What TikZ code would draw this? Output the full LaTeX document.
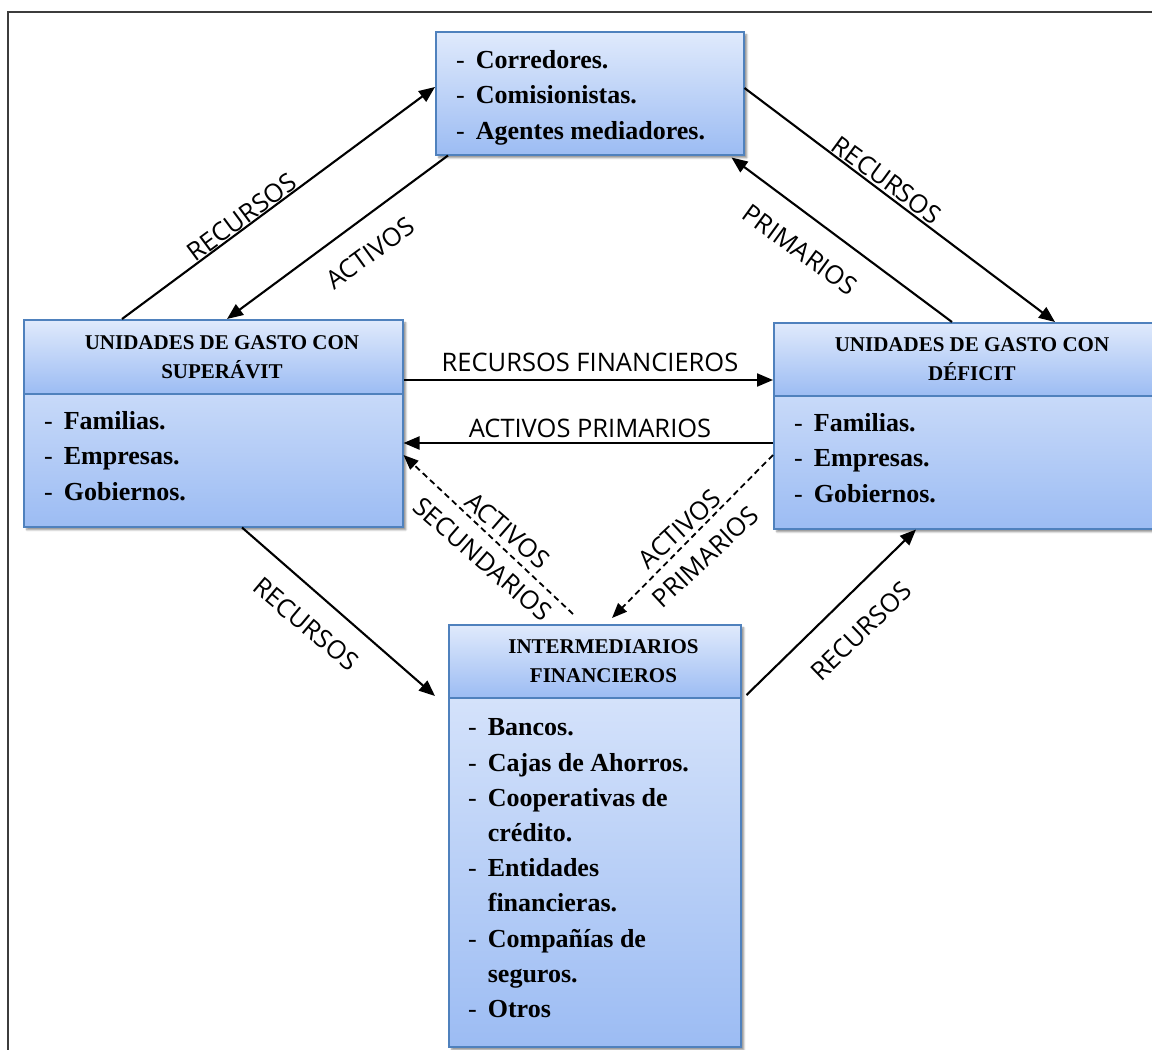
\documentclass[tikz,border=0pt]{standalone}
\usepackage{fontspec}
\setmainfont{Liberation Serif}
\newfontfamily\labfont{Open Sans}
\usetikzlibrary{arrows.meta,calc,shadows.blur}

\definecolor{boxline}{RGB}{79,129,189}
\definecolor{boxtop}{RGB}{224,234,252}
\definecolor{boxbot}{RGB}{156,188,243}
\definecolor{framecol}{RGB}{60,60,60}

\tikzset{
  box/.style={draw=boxline, line width=1.5pt, inner sep=0pt, anchor=north west,
    top color=boxtop, bottom color=boxbot,
    blur shadow={shadow xshift=3pt, shadow yshift=-3pt, shadow blur steps=6, shadow opacity=45}},
  headbox/.style={draw=boxline, line width=1.5pt, inner sep=0pt, anchor=north west,
    top color=boxtop, bottom color=boxbot},
  headtext/.style={inner sep=0pt, align=center, font=\fontsize{21}{29}\selectfont\bfseries},
  itemtext/.style={inner sep=0pt, anchor=north west, align=left, font=\fontsize{26}{35.5}\selectfont\bfseries},
  flow/.style={line width=2.1pt, -{Triangle[length=16pt,width=13pt]}},
  dflow/.style={line width=1.8pt, -{Triangle[length=15pt,width=12pt]}, dash pattern=on 6pt off 4pt},
  lab/.style={inner sep=0pt, align=center, font=\labfont\fontsize{25.5}{30}\selectfont},
  lab2/.style={lab, font=\labfont\fontsize{25.5}{38}\selectfont},
}

\newcommand{\dashitem}{{\mdseries -}}

\begin{document}
\begin{tikzpicture}[x=1pt,y=-1pt]
  \useasboundingbox (0,0) rectangle (1152,1050);
  \clip (0,0) rectangle (1152,1050);

  % outer frame
  \draw[framecol, line width=1.5pt] (8,1070) -- (8,12) -- (1170,12);

  % boxes
  \node[box, minimum width=308pt, minimum height=123pt] (corr) at (435,31) {};
  \node[box, minimum width=379pt, minimum height=207pt] (sup) at (23,319) {};
  \node[headbox, minimum width=379pt, minimum height=74pt] (supH) at (sup.north west) {};
  \node[box, minimum width=382pt, minimum height=206pt] (def) at (773,322) {};
  \node[headbox, minimum width=382pt, minimum height=73pt] (defH) at (def.north west) {};
  \node[box, minimum width=292pt, minimum height=422pt] (int) at (448,624) {};
  \node[headbox, minimum width=292pt, minimum height=73pt] (intH) at (int.north west) {};

  % box texts
  \node[itemtext] (corrT) at ($(corr.north west)+(21,12)$) {%
    \begin{tabular}{@{}l@{\hspace{11pt}}l@{}}
      \dashitem & Corredores.\\
      \dashitem & Comisionistas.\\
      \dashitem & Agentes mediadores.
    \end{tabular}};

  \node[headtext] (supHT) at ($(sup.north west)+(199,38.5)$) {UNIDADES DE GASTO CON\\SUPERÁVIT};
  \node[itemtext] (supT) at ($(sup.north west)+(21,85)$) {%
    \begin{tabular}{@{}l@{\hspace{11pt}}l@{}}
      \dashitem & Familias.\\
      \dashitem & Empresas.\\
      \dashitem & Gobiernos.
    \end{tabular}};

  \node[headtext] (defHT) at ($(def.north west)+(199,37)$) {UNIDADES DE GASTO CON\\DÉFICIT};
  \node[itemtext] (defT) at ($(def.north west)+(21,84)$) {%
    \begin{tabular}{@{}l@{\hspace{11pt}}l@{}}
      \dashitem & Familias.\\
      \dashitem & Empresas.\\
      \dashitem & Gobiernos.
    \end{tabular}};

  \node[headtext] (intHT) at ($(int.north west)+(155.5,37.5)$) {INTERMEDIARIOS\\FINANCIEROS};
  \node[itemtext, font=\fontsize{26}{35.2}\selectfont\bfseries] (intT) at ($(int.north west)+(20,87)$) {%
    \begin{tabular}{@{}l@{\hspace{11pt}}l@{}}
      \dashitem & Bancos.\\
      \dashitem & Cajas de Ahorros.\\
      \dashitem & Cooperativas de\\
                & crédito.\\
      \dashitem & Entidades\\
                & financieras.\\
      \dashitem & Compañías de\\
                & seguros.\\
      \dashitem & Otros
    \end{tabular}};

  % connectors
  \draw[flow] ($(sup.north west)+(99,0)$) -- ($(corr.north west)+(0,56)$);
  \draw[flow] ($(corr.south west)+(13,0)$) -- ($(sup.north west)+(204,0)$);
  \draw[flow] ($(corr.north east)+(0,57)$) -- ($(def.north west)+(282,0)$);
  \draw[flow] ($(def.north west)+(179,0)$) -- ($(corr.south east)+(-13,2)$);
  \draw[flow] ($(sup.north east)+(0,61)$) -- ($(def.north west)+(0,58)$);
  \draw[flow] ($(def.north west)+(0,121)$) -- ($(sup.north east)+(0,124)$);
  \draw[dflow] ($(int.north west)+(125,-10)$) -- ($(sup.north east)+(0,136)$);
  \draw[dflow] ($(def.north west)+(0,133)$) -- ($(int.north west)+(164,-6)$);
  \draw[flow] ($(sup.south west)+(219,0)$) -- ($(int.north west)+(-13,72)$);
  \draw[flow] ($(int.north east)+(5,71)$) -- ($(def.south west)+(143,0)$);

  % connector labels
  \node[lab, rotate=36.5] (l1) at (242,217) {RECURSOS};
  \node[lab, rotate=36] (l2) at (370,253) {ACTIVOS};
  \node[lab, rotate=-36.3] (l3) at (887,180) {RECURSOS};
  \node[lab, rotate=-36] (l4) at (800,250) {PRIMARIOS};
  \node[lab] (l5) at (590,362) {RECURSOS FINANCIEROS};
  \node[lab] (l6) at (590,428) {ACTIVOS PRIMARIOS};
  \node[lab2, rotate=-41] (l7) at (495,545) {ACTIVOS\\SECUNDARIOS};
  \node[lab2, rotate=43] (l9) at (692.5,543) {ACTIVOS\\PRIMARIOS};
  \node[lab, rotate=-40] (l11) at (306,624) {RECURSOS};
  \node[lab, rotate=44] (l12) at (861,631) {RECURSOS};
\end{tikzpicture}
\end{document}
